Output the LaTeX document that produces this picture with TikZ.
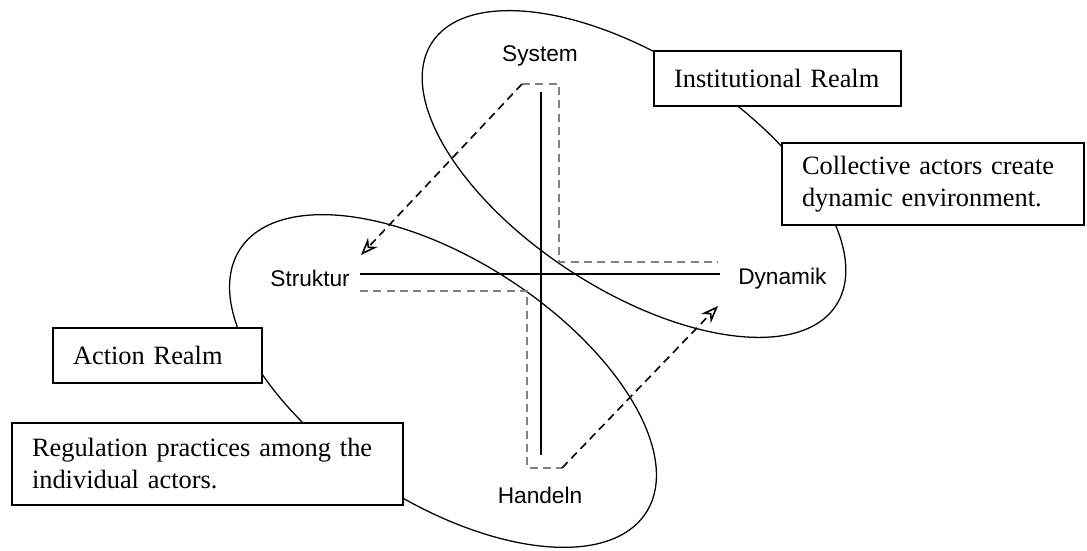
\documentclass[tikz,border=0pt]{standalone}
\usepackage{fontspec}
\setmainfont{Liberation Serif}
\newfontfamily\axisfont{Liberation Sans}
\usetikzlibrary{arrows.meta}

\begin{document}
\begin{tikzpicture}[x=0.75pt, y=-0.75pt,
  axislabel/.style={font=\axisfont\fontsize{17}{20}\selectfont, inner sep=0pt},
  realmbox/.style={draw, fill=white, line width=0.9pt, inner xsep=15pt, minimum height=41.25pt, align=left, font=\fontsize{19.8}{24}\selectfont},
  notebox/.style={realmbox, minimum height=61.5pt},
  axisline/.style={line width=1.8pt},
  guide/.style={draw=gray, dash pattern=on 6pt off 4pt, line width=0.9pt},
  flow/.style={dash pattern=on 6pt off 4pt, line width=1.2pt, -{Stealth[open, length=13pt, width=10pt]}}]

\useasboundingbox (0,0) rectangle (1087,550);

\draw[line width=0.95pt, rotate around={-33:(634,174)}] (634,174) ellipse [x radius=241, y radius=116];
\draw[line width=0.95pt, rotate around={-33:(443,381)}] (443,381) ellipse [x radius=242, y radius=121];

\node[axislabel] (sys) at (540,56) {System};
\node[axislabel] (hand) at (540,495) {Handeln};
\node[axislabel, anchor=east] (str) at (350,278) {Struktur};
\node[axislabel, anchor=west] (dyn) at (738,279) {Dynamik};

\coordinate (vtop) at (541,92);
\coordinate (vbot) at (541,455);
\coordinate (hleft) at (360,274);
\coordinate (hright) at (720,274);
\coordinate (upstart) at (522,84);
\coordinate (strtip) at (361,255);
\coordinate (lowend) at (562,468);
\coordinate (dyntip) at (718,306);

\draw[axisline] (vtop) -- (vbot);
\draw[axisline] (hleft) -- (hright);

\draw[guide] (upstart) -- (559,84) -- (559,262) -- (718,262);
\draw[flow] (upstart) -- (strtip);
\draw[guide] (360,291) -- (527,291) -- (527,468) -- (lowend);
\draw[flow] (lowend) -- (dyntip);

\node[realmbox, text width=155.25pt] (inst) at (777.5,78.5) {Institutional Realm};
\node[notebox, text width=196.5pt] (coll) at (933,184) {Collective actors create\\dynamic environment.};
\node[realmbox, text width=126.75pt] (act) at (157.5,355.5) {Action Realm};
\node[notebox, text width=263.25pt] (reg) at (207.5,464) {Regulation practices among the\\individual actors.};
\end{tikzpicture}
\end{document}
